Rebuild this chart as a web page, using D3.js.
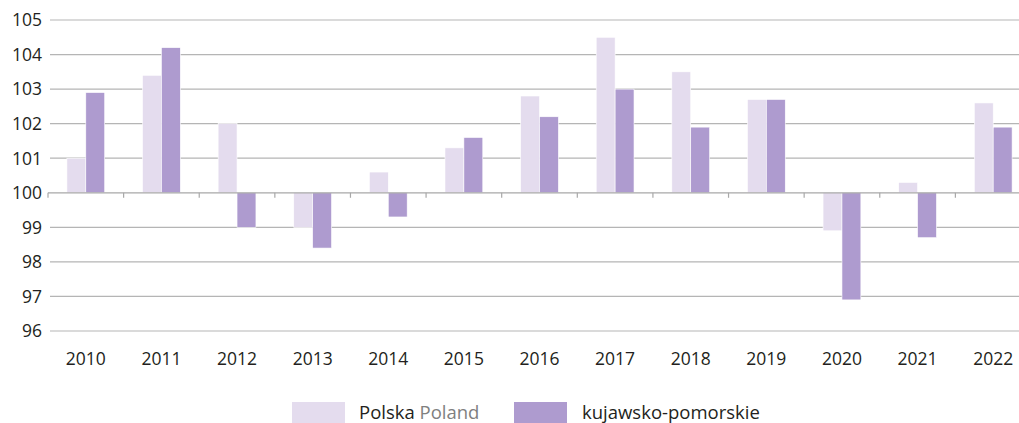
<!DOCTYPE html>
<html>
<head>
<meta charset="utf-8">
<script src="https://cdn.jsdelivr.net/npm/d3@7"></script>
<style>
  html, body { margin: 0; padding: 0; background: #fff; overflow: hidden; }
  svg { display: block; font-family: "Open Sans", "Noto Sans", sans-serif; }
</style>
</head>
<body>
<svg id="chart" width="1019" height="423"></svg>
<script>
// Index values (previous year = 100)
const years = ["2010","2011","2012","2013","2014","2015","2016","2017","2018","2019","2020","2021","2022"];
const polska = [101.0, 103.4, 102.0, 99.0, 100.6, 101.3, 102.8, 104.5, 103.5, 102.7, 98.9, 100.3, 102.6];
const kujawsko = [102.9, 104.2, 99.0, 98.4, 99.3, 101.6, 102.2, 103.0, 101.9, 102.7, 96.9, 98.7, 101.9];
const yTicks = [96, 97, 98, 99, 100, 101, 102, 103, 104, 105];
const seriesNames = ["Polska", "kujawsko-pomorskie"];
const seriesColors = ["#e4dcee", "#ae9bcf"];

const svg = d3.select("#chart");
const W = 1019;
const plotLeft = 48, plotRight = 1031, plotTop = 20, plotBottom = 331;

const x = d3.scaleBand().domain(years).range([plotLeft, plotRight]).padding(0);
const y = d3.scaleLinear().domain([96, 105]).range([plotBottom, plotTop]);
const baseline = 100;

// gridlines
svg.append("g").selectAll("line").data(yTicks.filter(t => t !== baseline)).join("line")
  .attr("x1", plotLeft + 2).attr("x2", W)
  .attr("y1", d => y(d)).attr("y2", d => y(d))
  .attr("stroke", "#b5b5b5").attr("stroke-width", 1.2);

// y tick labels
svg.append("g").selectAll("text").data(yTicks).join("text")
  .attr("x", 42).attr("y", d => y(d))
  .attr("dy", "0.36em")
  .attr("text-anchor", "end")
  .attr("font-size", 17.5)
  .attr("fill", "#231f20")
  .text(d => d);

// bars
const groupW = x.bandwidth() * 0.5;
const barW = groupW / 2;
const data = years.map((yr, i) => [
  { yr, k: 0, v: polska[i] },
  { yr, k: 1, v: kujawsko[i] }
]).flat();

svg.append("g").selectAll("rect").data(data).join("rect")
  .attr("x", d => x(d.yr) + (x.bandwidth() - groupW) / 2 + d.k * barW)
  .attr("width", barW)
  .attr("y", d => y(Math.max(d.v, baseline)))
  .attr("height", d => Math.abs(y(d.v) - y(baseline)))
  .attr("fill", d => seriesColors[d.k])
  .attr("stroke", "#ffffff")
  .attr("stroke-width", 0.6);

// category axis at 100 with tick marks between years
const axisG = svg.append("g");
axisG.append("line")
  .attr("x1", plotLeft).attr("x2", W)
  .attr("y1", y(baseline)).attr("y2", y(baseline))
  .attr("stroke", "#a8a8a8").attr("stroke-width", 1.2);
axisG.selectAll("line.tick").data(years).join("line")
  .attr("class", "tick")
  .attr("x1", d => x(d)).attr("x2", d => x(d))
  .attr("y1", y(baseline)).attr("y2", y(baseline) + 5)
  .attr("stroke", "#a8a8a8").attr("stroke-width", 1.2);

// year labels
svg.append("g").selectAll("text").data(years).join("text")
  .attr("x", d => x(d) + x.bandwidth() / 2)
  .attr("y", 365)
  .attr("text-anchor", "middle")
  .attr("font-size", 17.5)
  .attr("fill", "#231f20")
  .text(d => d);

// legend
const legend = svg.append("g");
legend.append("rect").attr("x", 292).attr("y", 402).attr("width", 53).attr("height", 21).attr("fill", seriesColors[0]);
const t1 = legend.append("text").attr("x", 359).attr("y", 419).attr("font-size", 18.5).attr("fill", "#231f20");
t1.append("tspan").text(seriesNames[0] + " ");
t1.append("tspan").attr("fill", "#808080").text("Poland");
legend.append("rect").attr("x", 514).attr("y", 402).attr("width", 53).attr("height", 21).attr("fill", seriesColors[1]);
legend.append("text").attr("x", 582).attr("y", 419).attr("font-size", 18.5).attr("fill", "#231f20").text(seriesNames[1]);
</script>
</body>
</html>
